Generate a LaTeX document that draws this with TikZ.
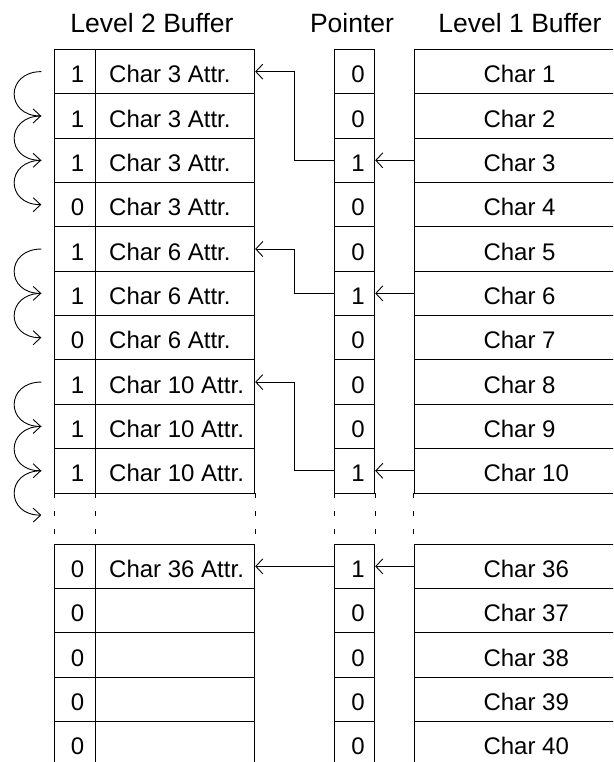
\documentclass[tikz,border=0pt]{standalone}
\usepackage{fontspec}
\setmainfont{Liberation Sans}
\usetikzlibrary{arrows.meta}
\begin{document}
\begin{tikzpicture}[x=1pt,y=-1pt,
  cell/.style={draw, rectangle, inner sep=0pt, anchor=north west, line width=0.9pt, minimum height=44.35pt},
  dcell/.style={cell, minimum width=40.7pt},
  acell/.style={cell, minimum width=159.6pt},
  pcell/.style={cell, minimum width=40.3pt},
  ccell/.style={cell, minimum width=240pt},
  txt/.style={font=\fontsize{24}{28}\selectfont, inner sep=0pt},
  ttl/.style={font=\fontsize{26.5}{30}\selectfont, inner sep=0pt, anchor=base},
  ptr/.style={-{Straight Barb[length=7pt,width=15pt]}, line width=0.9pt},
  curv/.style={-{Straight Barb[length=7.5pt,width=14pt]}, line width=0.9pt},
  gap/.style={line width=0.9pt, dash pattern=on 5pt off 13pt}]
\useasboundingbox (0,0) rectangle (613,762);
\clip (0,0) rectangle (613,762);
% titles
\node[ttl] (t2) at (152,32.7) {Level 2 Buffer};
\node[ttl] (tp) at (352,32.7) {Pointer};
\node[ttl] (t1) at (520,32.7) {Level 1 Buffer};
% upper rows
\foreach \i/\dv/\an/\pv [evaluate=\i as \t using 49+(\i-1)*44.35] in
  {1/1/3/0,2/1/3/0,3/1/3/1,4/0/3/0,5/1/6/0,6/1/6/1,7/0/6/0,8/1/10/0,9/1/10/0,10/1/10/1}{
  \node[dcell] (d\i) at (54,\t) {};
  \node[acell] (a\i) at (94.7,\t) {};
  \node[pcell] (p\i) at (334,\t) {};
  \node[ccell] (c\i) at (413.7,\t) {};
  \node[txt, anchor=base] (dt\i) at ([xshift=2.7pt,yshift=-11.1pt]d\i.center) {\dv};
  \node[txt, anchor=base west] (at\i) at ([xshift=14.3pt,yshift=-11.1pt]a\i.west) {Char \an{} Attr.};
  \node[txt, anchor=base] (pt\i) at ([xshift=3.5pt,yshift=-11.1pt]p\i.center) {\pv};
  \node[txt, anchor=base west] (ct\i) at ([xshift=69.6pt,yshift=-11.1pt]c\i.west) {Char \i};
}
% lower rows
\foreach \j/\pv [evaluate=\j as \t using 543.7+(\j-36)*44.35] in {36/1,37/0,38/0,39/0,40/0}{
  \node[dcell] (d\j) at (54,\t) {};
  \node[acell] (a\j) at (94.7,\t) {};
  \node[pcell] (p\j) at (334,\t) {};
  \node[ccell] (c\j) at (413.7,\t) {};
  \node[txt, anchor=base] (dt\j) at ([xshift=2.7pt,yshift=-11.1pt]d\j.center) {0};
  \node[txt, anchor=base] (pt\j) at ([xshift=3.5pt,yshift=-11.1pt]p\j.center) {\pv};
  \node[txt, anchor=base west] (ct\j) at ([xshift=69.6pt,yshift=-11.1pt]c\j.west) {Char \j};
}
\node[txt, anchor=base west] (at36) at ([xshift=14.3pt,yshift=-11.1pt]a36.west) {Char 36 Attr.};
% dashed continuation
\draw[gap] (d10.south west) -- (d36.north west);
\draw[gap] (d10.south east) -- (d36.north east);
\draw[gap] (a10.south east) -- (a36.north east);
\draw[gap] (p10.south west) -- (p36.north west);
\draw[gap] (p10.south east) -- (p36.north east);
\draw[gap] (c10.south west) -- (c36.north west);
% pointer arrows
\foreach \r/\s in {3/1,6/5,10/8}{
  \draw[ptr] (c\r.west) -- (p\r.east);
  \draw[ptr] (p\r.west) -- ++(-40,0) |- (a\s.east);
}
\draw[ptr] (c36.west) -- (p36.east);
\draw[ptr] (p36.west) -- (a36.east);
% chaining arrows on the left
\foreach \i in {1,...,10}{
  \coordinate (l\i) at ([xshift=-12.7pt]d\i.west);
}
\coordinate (l11) at ([yshift=-44.35pt]l10);
\foreach \a/\b in {1/2,2/3,3/4,5/6,6/7,8/9,9/10,10/11}{
  \draw[curv] (l\a) .. controls +(-36,0) and +(-36,0) .. (l\b);
}
\end{tikzpicture}
\end{document}
